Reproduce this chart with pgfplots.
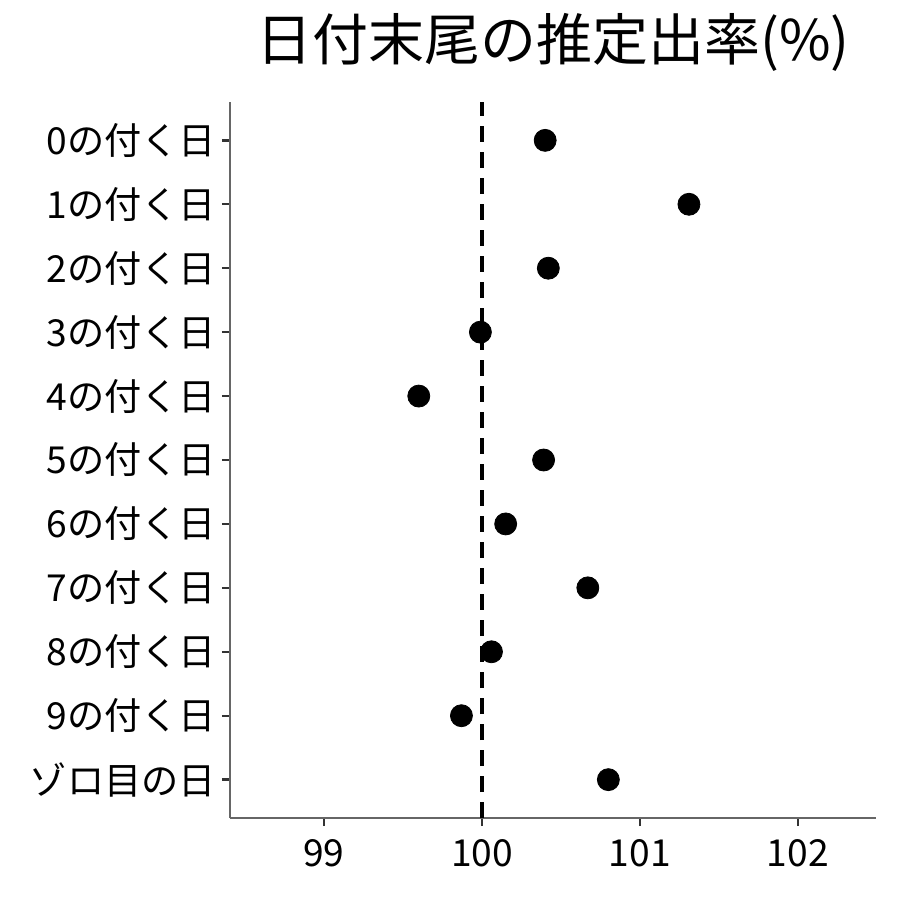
\documentclass[border=0pt]{standalone}
\usepackage{fontspec}
\setmainfont{Noto Sans CJK JP}
\usepackage{pgfplots}
\pgfplotsset{compat=1.18}
\definecolor{axgray}{HTML}{666666}
\definecolor{tickgray}{HTML}{333333}
\begin{document}
\begin{tikzpicture}
\useasboundingbox (-115pt,-41pt) rectangle (335pt,409pt);
\begin{axis}[
  scale only axis,
  width=323pt, height=358pt,
  xmin=98.405, xmax=102.494,
  ymin=0.4, ymax=11.6,
  axis lines*=left,
  axis line style={axgray, line width=0.8pt, -},
  xtick={99,100,101,102},
  ytick={1,...,11},
  yticklabels={ゾロ目の日,9の付く日,8の付く日,7の付く日,6の付く日,5の付く日,4の付く日,3の付く日,2の付く日,1の付く日,0の付く日},
  tick align=outside,
  major tick length=4pt,
  tick style={tickgray, line width=1.2pt},
  ticklabel style={font=\fontsize{18.6}{22}\selectfont, text=black},
  /pgf/number format/assume math mode=true,
  yticklabel style={xshift=0.5pt},
  xticklabel style={yshift=-3pt},
  title={日付末尾の推定出率(\%)},
  title style={font=\fontsize{28}{33}\selectfont, at={(0.5,1)}, anchor=center, yshift=24pt},
  clip=false,
]
\addplot [black, line width=2pt, dash pattern=on 8pt off 5pt] coordinates {(100,0.4) (100,11.6)};
\addplot [only marks, mark=*, mark size=5.5pt, black] coordinates {
  (100.40,11) (101.31,10) (100.42,9) (99.99,8) (99.60,7) (100.39,6)
  (100.15,5) (100.67,4) (100.06,3) (99.87,2) (100.80,1)
};
\end{axis}
\end{tikzpicture}
\end{document}
